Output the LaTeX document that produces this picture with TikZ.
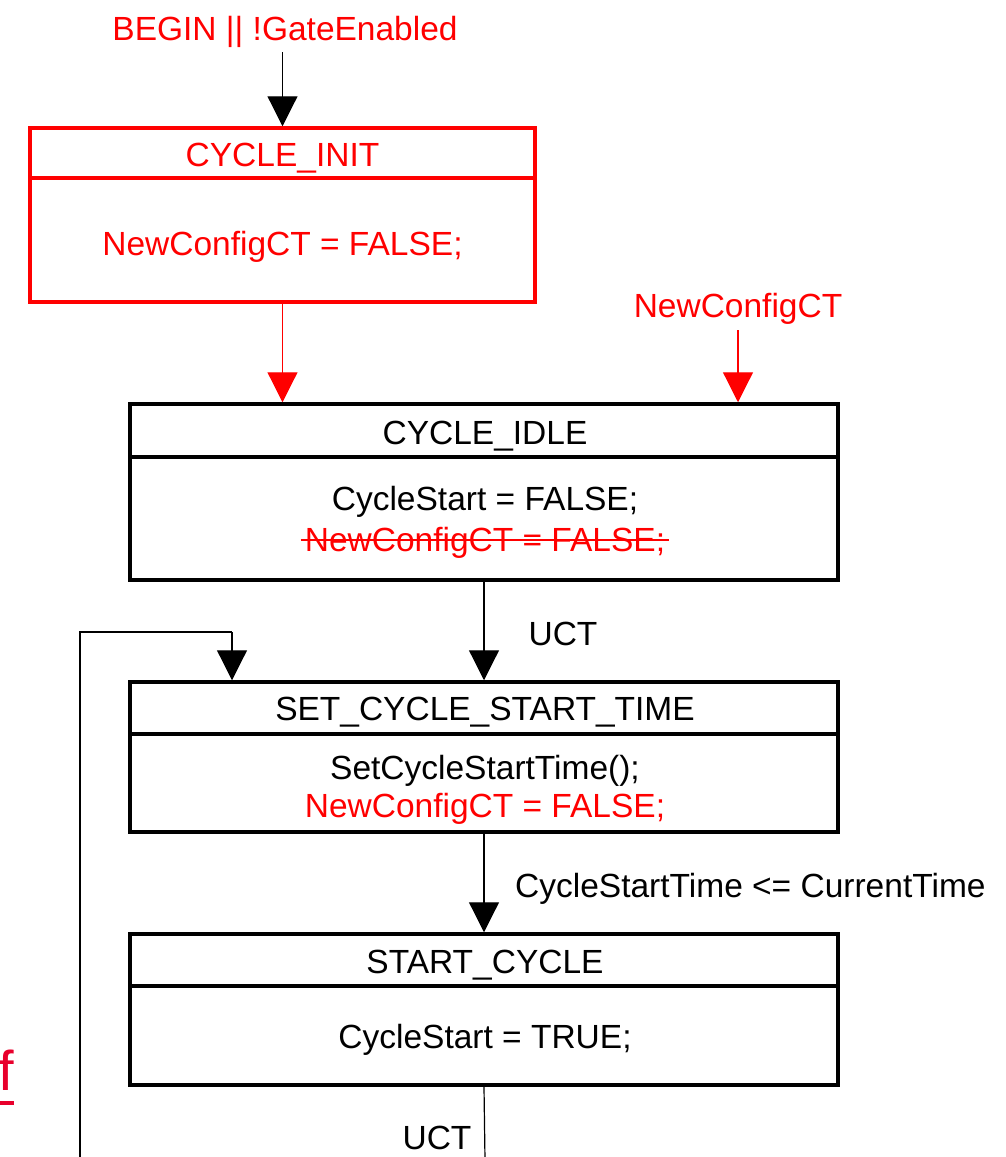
\documentclass[tikz,border=0pt]{standalone}
\usepackage{fontspec}
\setmainfont{Liberation Sans}
\usetikzlibrary{arrows.meta}
\definecolor{stred}{RGB}{255,0,0}
\definecolor{linkred}{RGB}{232,0,44}

\begin{document}
\begin{tikzpicture}[x=1pt,y=-1pt,
  every node/.style={font=\fontsize{33.5}{40}\selectfont, inner sep=0pt},
  statebox/.style={draw, line width=3.5pt, minimum width=708pt},
  initbox/.style={statebox, draw=stred, minimum width=505pt},
  divider/.style={line width=3.5pt},
  txt/.style={anchor=base},
  redtxt/.style={anchor=base, text=stred},
  arr/.style={line width=1.2pt, -{Triangle[width=30pt,length=30pt]}},
  redarr/.style={arr, draw=stred, fill=stred},
  loopline/.style={line width=1.2pt}
]
\useasboundingbox (0,0) rectangle (1006,1157);

% state boxes
\node[initbox, minimum height=174pt] (init) at (282.5,215) {};
\node[statebox, minimum height=176pt] (idle) at (484,492) {};
\node[statebox, minimum height=150pt] (set) at (484,757) {};
\node[statebox, minimum height=151pt] (start) at (484,1009.5) {};

% title separators
\draw[divider, stred] (init.west |- 0,178) -- (init.east |- 0,178);
\draw[divider] (idle.west |- 0,457) -- (idle.east |- 0,457);
\draw[divider] (set.west |- 0,734) -- (set.east |- 0,734);
\draw[divider] (start.west |- 0,986) -- (start.east |- 0,986);

% CYCLE_INIT
\node[redtxt] (initT) at (282.5,166) {CYCLE\_INIT};
\node[redtxt] (initB) at (282.5,255) {NewConfigCT = FALSE;};

% CYCLE_IDLE
\node[txt] (idleT) at (485,444) {CYCLE\_IDLE};
\node[txt] (idleB) at (485,510) {CycleStart = FALSE;};
\node[redtxt] (idleS) at (485,551) {NewConfigCT = FALSE;};
\draw[stred, line width=2pt] ([xshift=-4pt,yshift=11pt]idleS.base west) -- ([xshift=4pt,yshift=11pt]idleS.base east);

% SET_CYCLE_START_TIME
\node[txt] (setT) at (485,720) {SET\_CYCLE\_START\_TIME};
\node[txt] (setB) at (485,779) {SetCycleStartTime();};
\node[redtxt] (setR) at (485,817) {NewConfigCT = FALSE;};

% START_CYCLE
\node[txt] (startT) at (485,973) {START\_CYCLE};
\node[txt] (startB) at (485,1048) {CycleStart = TRUE;};

% entry conditions and transition labels
\node[redtxt] (begin) at (285,40) {BEGIN || !GateEnabled};
\node[redtxt] (cfg) at (738,317) {NewConfigCT};
\node[txt] (uct1) at (563,645) {UCT};
\node[txt, anchor=base west] (cond) at (515,897) {CycleStartTime <= CurrentTime};
\node[txt] (uct2) at (437,1149) {UCT};

% connectors
\draw[arr] ([yshift=-5pt]begin.south -| init.north) -- (init.north);
\draw[redarr] (init.south) -- (init.south |- idle.north);
\draw[redarr] ([yshift=-6pt]cfg.south) -- (cfg.south |- idle.north);
\draw[arr] (idle.south) -- (set.north);
\draw[arr] (set.south) -- (start.north);
\coordinate (outEnd) at (485,1160);
\draw[loopline] (start.south) -- (outEnd);

% loop back into SET_CYCLE_START_TIME
\coordinate (loopStart) at (80,1160);
\coordinate (loopTarget) at (232,682);
\draw[loopline] (loopStart) -- (80,632) -- (232,632);
\draw[arr] (232,632) -- (set.north -| loopTarget);

% underlined fragment at the left edge
\node[anchor=base east, text=linkred, font=\fontsize{56}{60}\selectfont] (frag) at (14,1090) {f};
\draw[linkred, line width=4pt] (0,1103) -- (frag.base east |- 0,1103);
\end{tikzpicture}
\end{document}
